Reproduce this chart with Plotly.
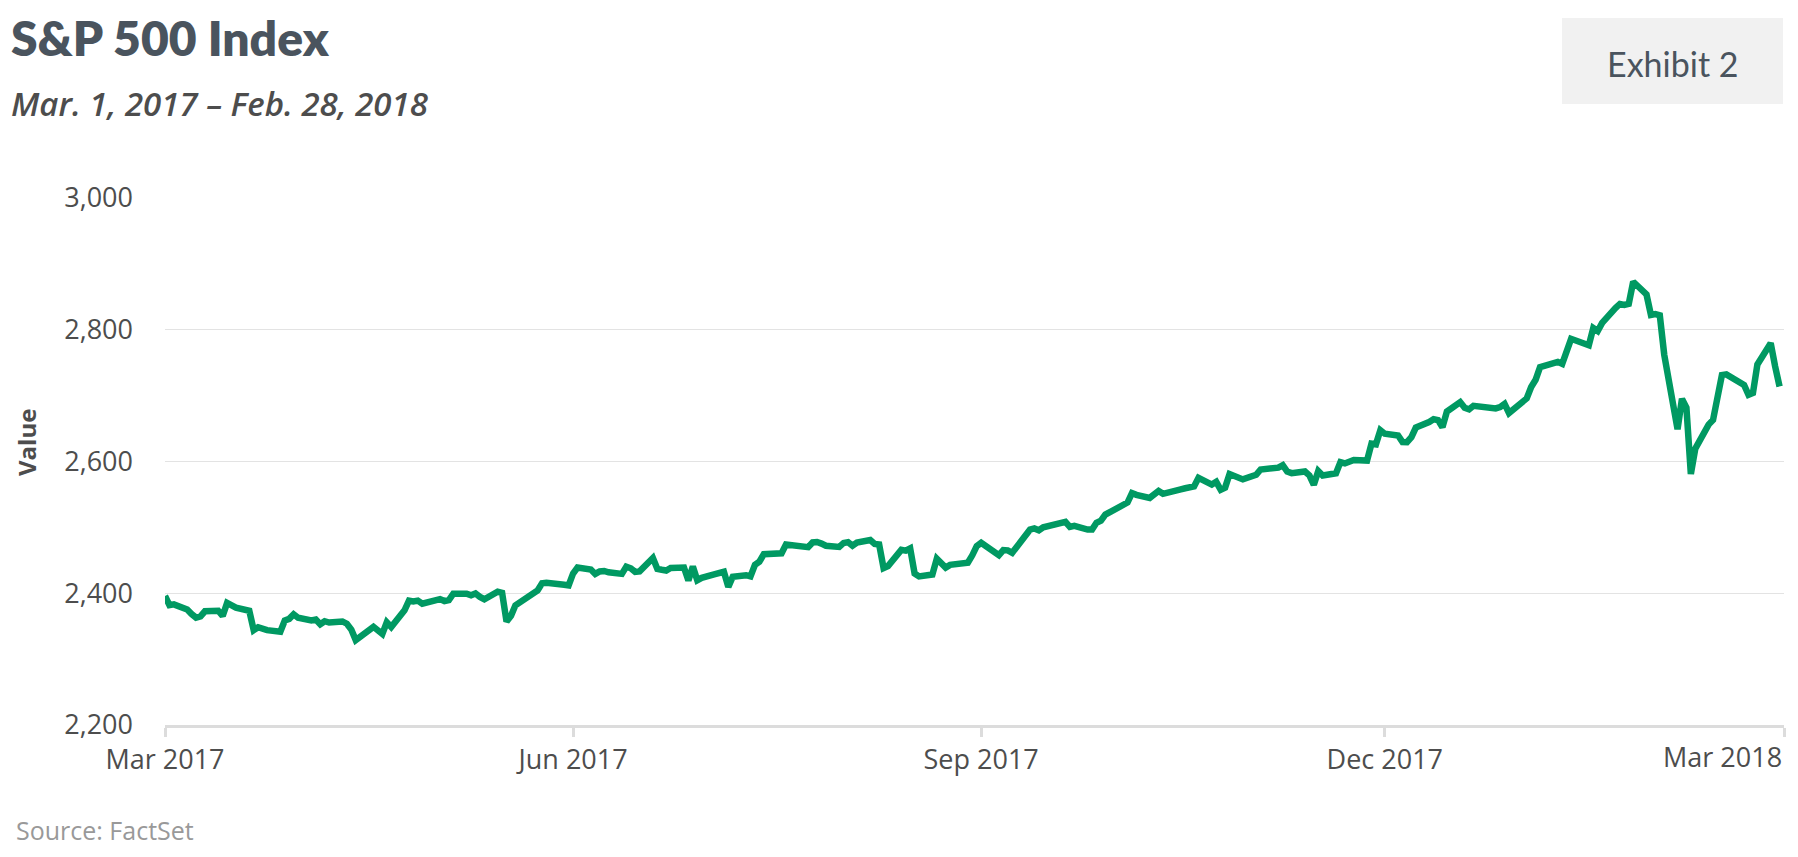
import plotly.graph_objects as go

# ---------------- data (S&P 500 daily closes) ----------------
months = ["2017-03", "2017-04", "2017-05", "2017-06", "2017-07", "2017-08",
          "2017-09", "2017-10", "2017-11", "2017-12", "2018-01", "2018-02"]

trading_days = [
    [1, 2, 3, 6, 7, 8, 9, 10, 13, 14, 15, 16, 17, 20, 21, 22, 23, 24, 27, 28, 29, 30, 31],
    [3, 4, 5, 6, 7, 10, 11, 12, 13, 17, 18, 19, 20, 21, 24, 25, 26, 27, 28],
    [1, 2, 3, 4, 5, 8, 9, 10, 11, 12, 15, 16, 17, 18, 19, 22, 23, 24, 25, 26, 30, 31],
    [1, 2, 5, 6, 7, 8, 9, 12, 13, 14, 15, 16, 19, 20, 21, 22, 23, 26, 27, 28, 29, 30],
    [3, 5, 6, 7, 10, 11, 12, 13, 14, 17, 18, 19, 20, 21, 24, 25, 26, 27, 28, 31],
    [1, 2, 3, 4, 7, 8, 9, 10, 11, 14, 15, 16, 17, 18, 21, 22, 23, 24, 25, 28, 29, 30, 31],
    [1, 5, 6, 7, 8, 11, 12, 13, 14, 15, 18, 19, 20, 21, 22, 25, 26, 27, 28, 29],
    [2, 3, 4, 5, 6, 9, 10, 11, 12, 13, 16, 17, 18, 19, 20, 23, 24, 25, 26, 27, 30, 31],
    [1, 2, 3, 6, 7, 8, 9, 10, 13, 14, 15, 16, 17, 20, 21, 22, 24, 27, 28, 29, 30],
    [1, 4, 5, 6, 7, 8, 11, 12, 13, 14, 15, 18, 19, 20, 21, 22, 26, 27, 28, 29],
    [2, 3, 4, 5, 8, 9, 10, 11, 12, 16, 17, 18, 19, 22, 23, 24, 25, 26, 29, 30, 31],
    [1, 2, 5, 6, 7, 8, 9, 12, 13, 14, 15, 16, 20, 21, 22, 23, 26, 27, 28],
]

closes = [
    [2395.96, 2381.92, 2383.12, 2375.31, 2368.39, 2362.98, 2364.87, 2372.60, 2373.47, 2365.45,
     2385.26, 2381.38, 2378.25, 2373.47, 2344.02, 2348.45, 2345.96, 2343.98, 2341.59, 2358.57,
     2361.13, 2368.06, 2362.72],
    [2358.84, 2360.16, 2352.95, 2357.49, 2355.54, 2357.16, 2353.78, 2344.93, 2328.95, 2349.01,
     2342.19, 2338.17, 2355.84, 2348.69, 2374.15, 2388.61, 2387.45, 2388.77, 2384.20],
    [2388.33, 2391.17, 2388.13, 2389.52, 2399.29, 2399.38, 2396.92, 2399.63, 2394.44, 2390.90,
     2402.32, 2400.67, 2357.03, 2365.72, 2381.73, 2394.02, 2398.42, 2404.39, 2415.07, 2415.82,
     2412.91, 2411.80],
    [2430.06, 2439.07, 2436.10, 2429.33, 2433.14, 2433.79, 2431.77, 2429.39, 2440.35, 2437.92,
     2432.46, 2433.15, 2453.46, 2437.03, 2435.61, 2434.50, 2438.30, 2439.07, 2419.38, 2440.69,
     2419.70, 2423.41],
    [2429.01, 2432.54, 2409.75, 2425.18, 2427.43, 2425.53, 2443.25, 2447.83, 2459.27, 2459.14,
     2460.61, 2473.83, 2473.45, 2472.54, 2469.91, 2477.13, 2477.83, 2475.42, 2472.10, 2470.30],
    [2476.35, 2477.57, 2472.16, 2476.83, 2480.91, 2474.92, 2474.02, 2438.21, 2441.32, 2465.84,
     2464.61, 2468.11, 2430.01, 2425.55, 2428.37, 2452.51, 2444.04, 2438.97, 2443.05, 2444.24,
     2446.30, 2457.59, 2471.65],
    [2476.55, 2457.85, 2465.54, 2465.10, 2461.43, 2488.11, 2496.48, 2498.37, 2495.62, 2500.23,
     2503.87, 2506.65, 2508.24, 2500.60, 2502.22, 2496.66, 2496.84, 2507.04, 2510.06, 2519.36],
    [2529.12, 2534.58, 2537.74, 2552.07, 2549.33, 2544.73, 2550.64, 2555.24, 2550.93, 2553.17,
     2557.64, 2559.36, 2561.26, 2562.10, 2575.21, 2564.98, 2569.13, 2557.15, 2560.40, 2581.07,
     2572.83, 2575.26],
    [2579.36, 2579.85, 2587.84, 2591.13, 2590.64, 2594.38, 2584.62, 2582.30, 2584.84, 2578.87,
     2564.62, 2585.64, 2578.85, 2582.14, 2599.03, 2597.08, 2602.42, 2601.42, 2627.04, 2626.07,
     2647.58],
    [2642.22, 2639.44, 2629.57, 2629.27, 2636.98, 2651.50, 2659.99, 2664.11, 2662.85, 2652.01,
     2675.81, 2690.16, 2681.47, 2679.25, 2684.57, 2683.34, 2680.50, 2682.62, 2687.54, 2673.61],
    [2695.81, 2713.06, 2723.99, 2743.15, 2747.71, 2751.29, 2748.23, 2767.56, 2786.24, 2776.42,
     2802.56, 2798.03, 2810.30, 2832.97, 2839.13, 2837.54, 2839.25, 2872.87, 2853.53, 2822.43,
     2823.81],
    [2821.98, 2762.13, 2648.94, 2695.14, 2681.66, 2581.00, 2619.55, 2656.00, 2662.94, 2698.63,
     2731.20, 2732.22, 2716.26, 2701.33, 2703.96, 2747.30, 2779.60, 2744.28, 2713.83],
]

tick_dates = ["2017-03-01", "2017-06-01", "2017-09-01", "2017-12-01", "2018-03-01"]
tick_labels = ["Mar 2017", "Jun 2017", "Sep 2017", "Dec 2017", "Mar 2018"]
y_ticks = [2200, 2400, 2600, 2800, 3000]

title_text = "S&P 500 Index"
subtitle_text = "Mar. 1, 2017 – Feb. 28, 2018"
exhibit_text = "Exhibit 2"
source_text = "Source: FactSet"
y_title = "Value"

# ---------------- build ----------------
x_vals, y_vals = [], []
for m, days, vals in zip(months, trading_days, closes):
    for d, v in zip(days, vals):
        x_vals.append(f"{m}-{d:02d}")
        y_vals.append(v)

W, H = 1798, 857
L, R, T, B = 165, 14, 198, 132
PW, PH = W - L - R, H - T - B


def px(xp):
    return (xp - L) / PW


def py(yp):
    return 1 - (yp - T) / PH


fig = go.Figure()
fig.add_trace(go.Scatter(
    x=x_vals, y=y_vals, mode="lines",
    line=dict(color="#009962", width=6.5),
    cliponaxis=False, hoverinfo="x+y",
))

annotations = [
    dict(text=title_text, x=px(9), y=py(37), xref="paper", yref="paper",
         xanchor="left", yanchor="middle", showarrow=False,
         font=dict(family="Lato", size=48, color="#4a545e", weight=800)),
    dict(text=subtitle_text, x=px(9), y=py(104), xref="paper", yref="paper",
         xanchor="left", yanchor="middle", showarrow=False,
         font=dict(family="Open Sans", size=33, color="#4d4d4d", weight=600, style="italic")),
    dict(text=exhibit_text, x=px(1672.5), y=py(63), xref="paper", yref="paper",
         xanchor="center", yanchor="middle", showarrow=False,
         font=dict(family="Lato", size=34, color="#4a545e")),
    dict(text=source_text, x=px(14), y=py(830), xref="paper", yref="paper",
         xanchor="left", yanchor="middle", showarrow=False,
         font=dict(family="Open Sans", size=25, color="#999999")),
    dict(text=y_title, x=px(26), y=py(443), xref="paper", yref="paper",
         xanchor="center", yanchor="middle", textangle=-90, showarrow=False,
         font=dict(family="Open Sans", size=24, color="#4d4d4d", weight=700)),
    dict(text=tick_labels[-1], x=tick_dates[-1], y=py(756), xref="x", yref="paper",
         xanchor="right", yanchor="middle", showarrow=False,
         font=dict(family="Open Sans", size=27, color="#4d4d4d")),
]

fig.update_layout(
    width=W, height=H,
    margin=dict(l=L, r=R, t=T, b=B),
    paper_bgcolor="white", plot_bgcolor="white",
    showlegend=False,
    annotations=annotations,
    shapes=[dict(type="rect", xref="paper", yref="paper",
                 x0=px(1562), x1=px(1783), y0=py(104), y1=py(18),
                 fillcolor="#f1f1f1", line=dict(width=0), layer="below")],
    xaxis=dict(
        type="date", range=[tick_dates[0], tick_dates[-1]],
        tickvals=tick_dates, ticktext=tick_labels[:-1] + [""],
        ticks="outside", ticklen=9, tickwidth=3, tickcolor="#dcdcdc",
        showline=True, linecolor="#dcdcdc", linewidth=3,
        showgrid=False, zeroline=False,
        tickfont=dict(family="Open Sans", size=27, color="#4d4d4d"),
        ticklabelstandoff=0,
    ),
    yaxis=dict(
        range=[2200, 3000], tickvals=y_ticks, tickformat=",",
        showgrid=True, gridcolor="#e3e3e3", gridwidth=1,
        zeroline=False, showline=False, ticks="",
        tickfont=dict(family="Open Sans", size=27, color="#4d4d4d"),
        ticklabelstandoff=31,
    ),
)

fig.write_html("out.html", config={"displayModeBar": False},
               post_script="document.body.style.margin='0px';")
